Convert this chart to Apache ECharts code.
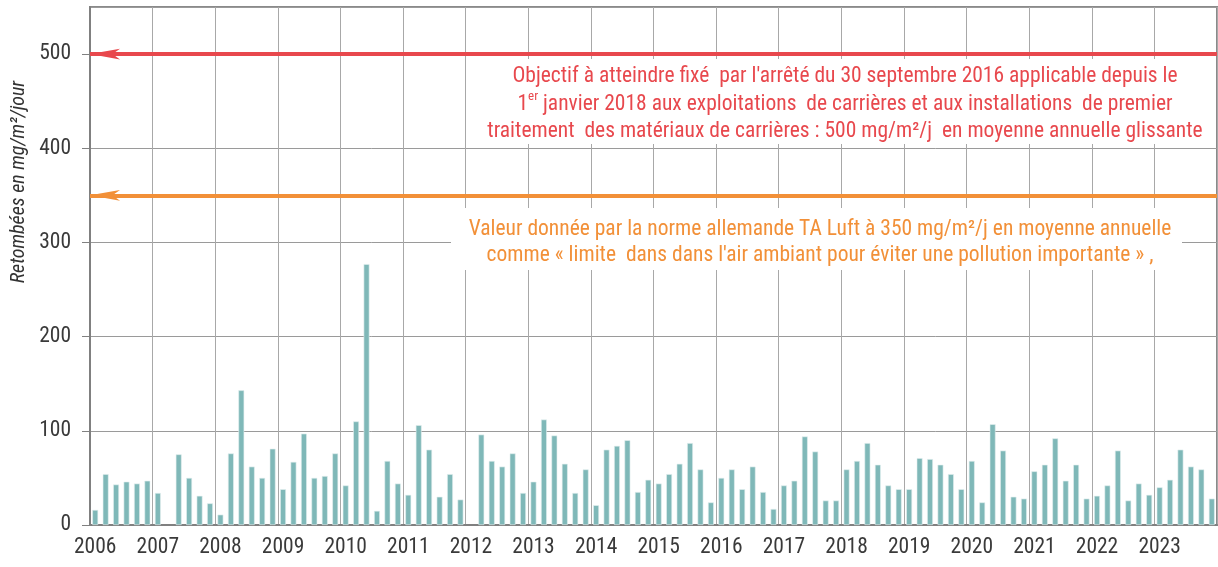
<!DOCTYPE html>
<html>
<head>
<meta charset="utf-8">
<script src="https://cdn.jsdelivr.net/npm/echarts@6/dist/echarts.min.js"></script>
<style>
  html, body { margin: 0; padding: 0; background: #fff; }
  #chart { width: 1218px; height: 567px; }
</style>
</head>
<body>
<div id="chart"></div>
<script>
// years on the x axis, 6 sampling periods per year (bimonthly)
const years = ['2006', '2007', '2008', '2009', '2010', '2011', '2012', '2013', '2014',
  '2015', '2016', '2017', '2018', '2019', '2020', '2021', '2022', '2023'];
const periods = ['P1', 'P2', 'P3', 'P4', 'P5', 'P6'];

// retombées (mg/m²/jour), one row per year
const retombees = [
  16, 54, 43, 46, 44, 47,     // 2006
  34, null, 75, 50, 31, 23,   // 2007
  11, 76, 143, 62, 50, 81,    // 2008
  38, 67, 97, 50, 52, 76,     // 2009
  42, 110, 277, 15, 68, 44,   // 2010
  32, 106, 80, 30, 54, 27,    // 2011
  null, 96, 68, 62, 76, 34,   // 2012
  46, 112, 95, 65, 34, 59,    // 2013
  21, 80, 84, 90, 35, 48,     // 2014
  44, 54, 65, 87, 59, 24,     // 2015
  50, 59, 38, 62, 35, 17,     // 2016
  42, 47, 94, 78, 26, 26,     // 2017
  59, 68, 87, 64, 42, 38,     // 2018
  38, 71, 70, 64, 54, 38,     // 2019
  68, 24, 107, 79, 30, 28,    // 2020
  57, 64, 92, 47, 64, 28,     // 2021
  31, 42, 79, 26, 44, 32,     // 2022
  40, 48, 80, 62, 59, 28      // 2023
];

const objectif = 500;   // arrêté du 30 septembre 2016
const taLuft = 350;     // norme allemande TA Luft

const texteObjectif = [
  "Objectif à atteindre fixé  par l'arrêté du 30 septembre 2016 applicable depuis le",
  "1{sup|er} janvier 2018 aux exploitations  de carrières et aux installations  de premier",
  "traitement  des matériaux de carrières : 500 mg/m²/j  en moyenne annuelle glissante"
];
const texteTaLuft = [
  "Valeur donnée par la norme allemande TA Luft à 350 mg/m²/j en moyenne annuelle",
  "comme « limite  dans dans l'air ambiant pour éviter une pollution importante » ,"
];

const categories = [];
years.forEach(y => periods.forEach(p => categories.push(y + '-' + p)));

const FONT = '"Liberation Sans Narrow", "Arial Narrow", "Roboto Condensed", sans-serif';
const RED = '#e8484d';
const ORANGE = '#f29038';

const chart = echarts.init(document.getElementById('chart'), null, { renderer: 'canvas' });

chart.setOption({
  animation: false,
  backgroundColor: '#fff',
  grid: {
    left: 90, right: 1, top: 7, bottom: 42,
    show: true, borderColor: '#8a8a8a', borderWidth: 2
  },
  xAxis: {
    type: 'category',
    data: categories,
    boundaryGap: true,
    axisLine: { lineStyle: { color: '#808080', width: 2 } },
    axisTick: { interval: 5, length: 6, lineStyle: { color: '#808080' } },
    axisLabel: {
      interval: 5,
      margin: 12,
      color: '#3a3a3a',
      fontSize: 21.5,
      fontFamily: FONT,
      formatter: v => v.slice(0, 4)
    },
    splitLine: { show: true, interval: 5, lineStyle: { color: '#a8a8a8', width: 1 } }
  },
  yAxis: {
    type: 'value',
    min: 0, max: 550, interval: 100,
    axisLine: { show: true, lineStyle: { color: '#808080', width: 2 } },
    axisTick: { show: true, length: 8, lineStyle: { color: '#808080' } },
    axisLabel: {
      showMaxLabel: false,
      margin: 19,
      color: '#3a3a3a',
      fontSize: 21.5,
      fontFamily: FONT
    },
    splitLine: { lineStyle: { color: '#9a9a9a', width: 1 } }
  },
  series: [{
    type: 'bar',
    data: retombees,
    barWidth: '56%',
    itemStyle: { color: '#7fb8b8', borderColor: '#e4f0f0', borderWidth: 0.6 },
    markLine: {
      silent: true,
      symbol: ['arrow', 'none'],
      symbolSize: [8, 30],
      label: { show: false },
      emphasis: { disabled: true },
      data: [
        { yAxis: objectif, lineStyle: { color: RED, width: 4, type: 'solid' } },
        { yAxis: taLuft, lineStyle: { color: ORANGE, width: 4, type: 'solid' } }
      ]
    },
    z: 2
  }],
  graphic: [
    { type: 'rect', z: 10, shape: { x: 470, y: 59, width: 740, height: 85 }, style: { fill: '#fff' } },
    {
      type: 'text', z: 11, x: 845, y: 63,
      style: {
        text: texteObjectif.join('\n'),
        align: 'center', verticalAlign: 'top',
        fill: RED, fontSize: 21.5, fontFamily: FONT, lineHeight: 27.5,
        rich: { sup: { fontSize: 13, verticalAlign: 'top', fill: RED, fontFamily: FONT, lineHeight: 20 } }
      }
    },
    { type: 'rect', z: 10, shape: { x: 451, y: 208, width: 731, height: 62 }, style: { fill: '#fff' } },
    {
      type: 'text', z: 11, x: 820, y: 217,
      style: {
        text: texteTaLuft.join('\n'),
        align: 'center', verticalAlign: 'top',
        fill: ORANGE, fontSize: 21.5, fontFamily: FONT, lineHeight: 26
      }
    },
    {
      type: 'text', z: 11, x: 19, y: 182, rotation: Math.PI / 2,
      style: {
        text: 'Retombées en mg/m²/jour',
        align: 'center', verticalAlign: 'middle',
        fill: '#333', fontSize: 20, fontStyle: 'italic', fontFamily: FONT
      }
    }
  ]
});
</script>
</body>
</html>
